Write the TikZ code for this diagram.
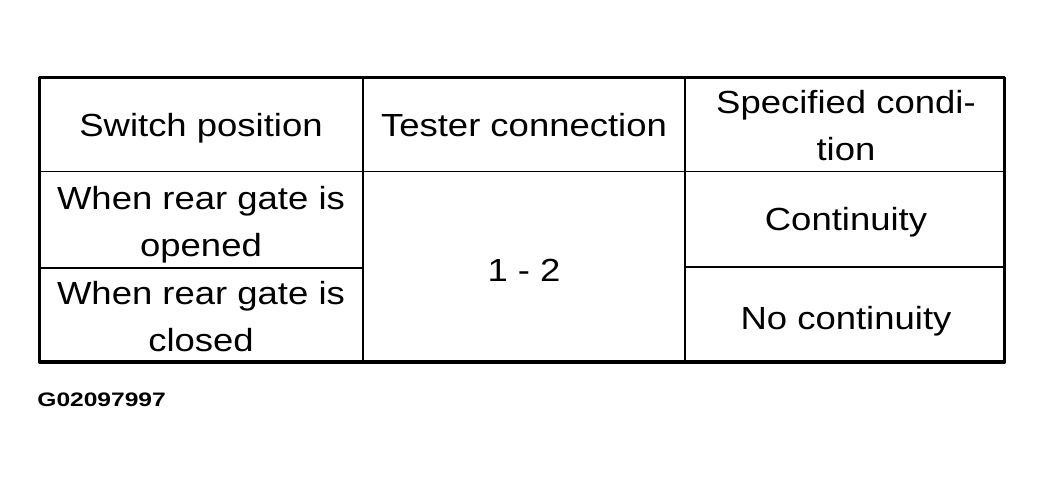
\documentclass[tikz,border=0pt]{standalone}
\usepackage{fontspec}
\setmainfont[FakeStretch=1.14]{Liberation Sans}
\newfontfamily\codefont[FakeStretch=1.26]{Liberation Sans}
\begin{document}
\begin{tikzpicture}[x=0.5pt,y=-0.5pt,line join=round,font=\fontsize{16}{23.5}\selectfont,
		cell/.style={align=center,inner sep=0pt,anchor=base},
		frame/.style={line width=1.6pt},
		rule/.style={line width=0.8pt}]
	\useasboundingbox (0,0) rectangle (1044,485);
	\draw[frame] (39.5,77.5) rectangle (1004.5,362);
	\draw[rule] (363,77.5)--(363,362) (685,77.5)--(685,362);
	\draw[rule] (39.5,171.5)--(1004.5,171.5) (39.5,268)--(363,268) (685,267)--(1004.5,267);
	\node[cell] (switch) at (201,137) {Switch position};
	\node[cell] (tester) at (524,137) {Tester connection};
	\node[cell] (spec) at (846,161) {Specified condi-\\tion};
	\node[cell] (opened) at (201,257) {When rear gate is\\opened};
	\node[cell] (closed) at (201,352) {When rear gate is\\closed};
	\node[cell] (pins) at (524,282) {1 - 2};
	\node[cell] (cont) at (846,231) {Continuity};
	\node[cell] (nocont) at (846,330) {No continuity};
	\node[cell,anchor=base west,font=\codefont\bfseries\fontsize{9.75}{12}\selectfont] (code) at (37,407) {G02097997};
\end{tikzpicture}
\end{document}
